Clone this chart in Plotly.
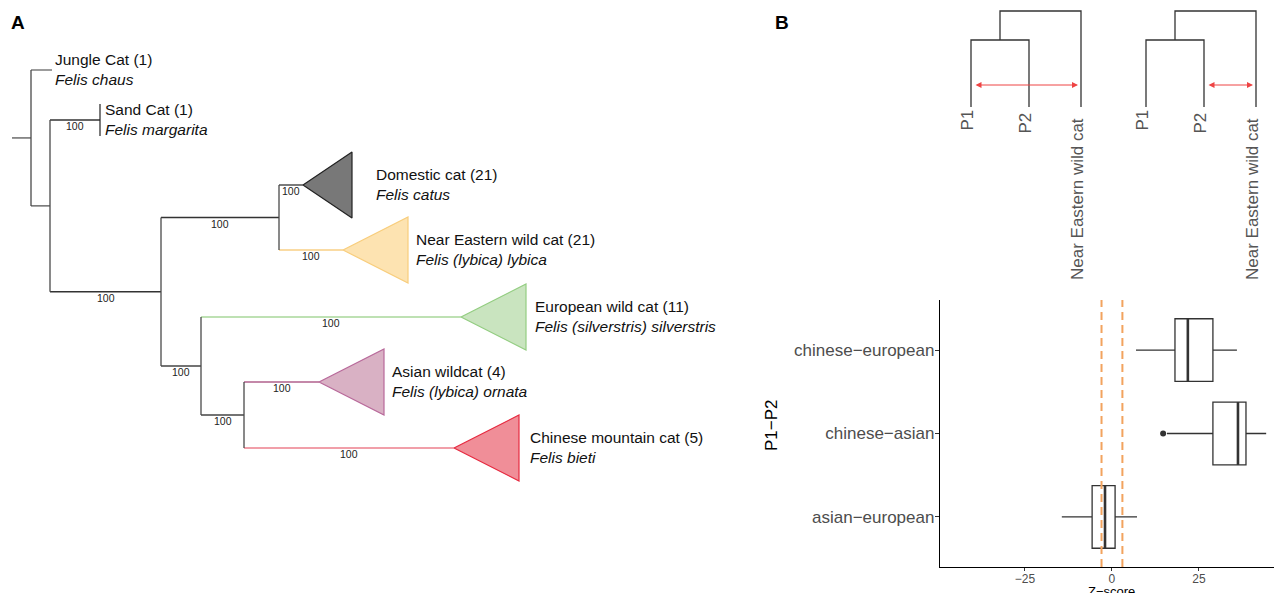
import plotly.graph_objects as go

W, H = 1274, 593
FONT = "Liberation Sans, Arial, Helvetica, sans-serif"

# ---------------- Panel A : phylogeny ----------------
node_ids = ["root", "n1", "n2", "n3", "n4", "n5", "n6",
            "jungle", "sand", "domestic", "near_eastern", "european", "asian", "chinese"]
node_parent = [None, "root", "n1", "n2", "n3", "n3", "n5",
               "n1", "n2", "n4", "n4", "n5", "n6", "n6"]
node_depth = [12, 31, 50, 161, 279, 201, 244, 52, 100, 303, 343, 461, 319, 454]
node_support = [None, None, None, 100, 100, 100, 100, None, 100, 100, 100, 100, 100, 100]
branch_color = ["#333333", "#555555", "#555555", "#333333", "#333333", "#444444", "#444444",
                "#666666", "#333333", "#333333", "#f9cf85", "#a8d79a", "#b0608c", "#ec7f8c"]

tip_ids = ["jungle", "sand", "domestic", "near_eastern", "european", "asian", "chinese"]
tip_y = [70, 120, 185, 250, 317, 382, 448]
tip_common = ["Jungle Cat (1)", "Sand Cat (1)", "Domestic cat (21)", "Near Eastern wild cat (21)",
              "European wild cat (11)", "Asian wildcat (4)", "Chinese mountain cat (5)"]
tip_species = ["Felis chaus", "Felis margarita", "Felis catus", "Felis (lybica) lybica",
               "Felis (silverstris) silverstris", "Felis (lybica) ornata", "Felis bieti"]
tip_label_gap = [3, 5, 24, 8, 9, 8, 11]
clade_len = [0, 0, 49, 65, 65, 65, 65]
clade_half = [0, 16, 33, 33, 33, 33, 33]
clade_fill = [None, None, "#787878", "#fde3b1", "#c9e4bf", "#d9b1c4", "#f08e98"]
clade_line = [None, "#222222", "#222222", "#f8cd7c", "#93cd81", "#b8699a", "#e62a40"]

# ---------------- Panel B : topologies ----------------
dendro_origin_x = [971, 1146]
leaf_offset = [0, 58, 110]
dendro_leaf_labels = ["P1", "P2", "Near Eastern wild cat"]
dendro_label_drop = [0, 3, 8]
dendro_root_y, dendro_inner_y, dendro_leaf_y = 11, 40, 107
arrow_pairs = [(0, 2), (1, 2)]
arrow_y = 85

# ---------------- Panel B : D-statistic boxplot ----------------
pairs = ["asian\u2212european", "chinese\u2212asian", "chinese\u2212european"]
q1 = [-5.7, 29.0, 18.1]
median = [-2.0, 36.2, 21.8]
q3 = [0.9, 38.5, 29.0]
lower = [-14.4, 15.8, 6.9]
upper = [7.2, 44.3, 35.9]
outlier_pair = [1]
outlier_val = [14.7]
thresholds = [-3, 3]
xticks = [-25, 0, 25]

fig = go.Figure()

# ---- tree geometry ----
depth = dict(zip(node_ids, node_depth))
children = {n: [] for n in node_ids}
for n, p in zip(node_ids, node_parent):
    if p is not None:
        children[p].append(n)
ypos = dict(zip(tip_ids, tip_y))


def get_y(n):
    if n in ypos:
        return ypos[n]
    cy = [get_y(c) for c in children[n]]
    ypos[n] = (min(cy) + max(cy)) / 2
    return ypos[n]


for n in node_ids:
    get_y(n)

segs = {}
for n, p, col in zip(node_ids, node_parent, branch_color):
    if p is None:
        continue
    segs.setdefault(col, ([], []))
    segs[col][0].extend([depth[p], depth[n], None])
    segs[col][1].extend([ypos[n], ypos[n], None])
vcol = "#4a4a4a"
segs.setdefault(vcol, ([], []))
for n in node_ids:
    if children[n]:
        cy = [ypos[c] for c in children[n]]
        segs[vcol][0].extend([depth[n], depth[n], None])
        segs[vcol][1].extend([min(cy), max(cy), None])
for col, (xs, ys) in segs.items():
    fig.add_trace(go.Scatter(x=xs, y=ys, mode="lines", line=dict(color=col, width=1.3),
                             hoverinfo="skip", showlegend=False, xaxis="x", yaxis="y"))

# clades
for i, t in enumerate(tip_ids):
    x0 = depth[t]
    y0 = ypos[t]
    if clade_len[i] > 0:
        fig.add_trace(go.Scatter(
            x=[x0, x0 + clade_len[i], x0 + clade_len[i], x0],
            y=[y0, y0 - clade_half[i], y0 + clade_half[i], y0],
            mode="lines", fill="toself", fillcolor=clade_fill[i],
            line=dict(color=clade_line[i], width=1.2),
            hoverinfo="skip", showlegend=False, xaxis="x", yaxis="y"))
    elif clade_half[i] > 0:
        fig.add_trace(go.Scatter(
            x=[x0, x0], y=[y0 - clade_half[i], y0 + clade_half[i]], mode="lines",
            line=dict(color=clade_line[i], width=1.2),
            hoverinfo="skip", showlegend=False, xaxis="x", yaxis="y"))

annotations = []
for i, t in enumerate(tip_ids):
    annotations.append(dict(
        x=depth[t] + clade_len[i] + tip_label_gap[i], y=ypos[t], xref="x", yref="y",
        xshift=-2, yshift=1,
        text=f"{tip_common[i]}<br><i>{tip_species[i]}</i>", showarrow=False,
        xanchor="left", yanchor="middle", align="left",
        font=dict(family=FONT, size=15.5, color="#111111")))

for n, p, s in zip(node_ids, node_parent, node_support):
    if s is None:
        continue
    annotations.append(dict(
        x=(depth[p] + depth[n]) / 2, y=ypos[n] + 6, xref="x", yref="y", text=str(s),
        showarrow=False, xanchor="center", yanchor="middle",
        font=dict(family=FONT, size=10.5, color="#222222")))

# ---- topologies ----
for k, ox in enumerate(dendro_origin_x):
    lx = [ox + o for o in leaf_offset]
    inner_x = (lx[0] + lx[1]) / 2
    xs = [lx[0], lx[0], lx[1], lx[1], None,
          inner_x, inner_x, lx[2], lx[2]]
    ys = [dendro_leaf_y, dendro_inner_y, dendro_inner_y, dendro_leaf_y, None,
          dendro_inner_y, dendro_root_y, dendro_root_y, dendro_leaf_y]
    fig.add_trace(go.Scatter(x=xs, y=ys, mode="lines", line=dict(color="#333333", width=1.3),
                             hoverinfo="skip", showlegend=False, xaxis="x", yaxis="y"))
    a, b = arrow_pairs[k]
    annotations.append(dict(
        x=lx[b] - 3, y=arrow_y, ax=lx[a] + 3, ay=arrow_y, xref="x", yref="y",
        axref="x", ayref="y", text="", showarrow=True, arrowside="end+start",
        arrowhead=2, arrowsize=1.2, arrowwidth=1, arrowcolor="#ee4444"))
    for j, lab in enumerate(dendro_leaf_labels):
        annotations.append(dict(
            x=lx[j], y=dendro_leaf_y + dendro_label_drop[j], xref="x", yref="y",
            xshift=-4, yshift=-1, text=lab,
            showarrow=False, textangle=-90, xanchor="center", yanchor="top",
            font=dict(family=FONT, size=17, color="#555555")))

# ---- boxplot ----
ypos_box = list(range(len(pairs)))
fig.add_trace(go.Box(
    y=ypos_box, q1=q1, median=median, q3=q3, lowerfence=lower, upperfence=upper,
    orientation="h", width=0.75, whiskerwidth=0, boxpoints=False,
    fillcolor="white", line=dict(color="#333333", width=1.3),
    hoverinfo="skip", showlegend=False, xaxis="x2", yaxis="y2"))
mx, my = [], []
for i, m in enumerate(median):
    mx.extend([m, m, None])
    my.extend([ypos_box[i] - 0.375, ypos_box[i] + 0.375, None])
fig.add_trace(go.Scatter(x=mx, y=my, mode="lines", line=dict(color="#333333", width=2.6),
                         hoverinfo="skip", showlegend=False, xaxis="x2", yaxis="y2"))
fig.add_trace(go.Scatter(x=outlier_val, y=[ypos_box[i] for i in outlier_pair], mode="markers",
                         marker=dict(color="#333333", size=6),
                         hoverinfo="skip", showlegend=False, xaxis="x2", yaxis="y2"))
for t in thresholds:
    fig.add_trace(go.Scatter(x=[t, t], y=[-0.6, 2.6], mode="lines",
                             line=dict(color="#f2a35e", width=2, dash="8px,5px"),
                             hoverinfo="skip", showlegend=False, xaxis="x2", yaxis="y2"))

# panel letters and axis titles
annotations += [
    dict(x=18, y=22, xref="x", yref="y", text="<b>A</b>", showarrow=False,
         font=dict(family=FONT, size=19, color="black")),
    dict(x=782, y=22, xref="x", yref="y", text="<b>B</b>", showarrow=False,
         font=dict(family=FONT, size=19, color="black")),
    dict(x=771, y=425, xref="x", yref="y", text="P1\u2212P2", showarrow=False, textangle=-90,
         font=dict(family=FONT, size=17, color="black")),
    dict(x=1111, y=591, xref="x", yref="y", text="Z\u2212score", showarrow=False,
         font=dict(family=FONT, size=13, color="black")),
]

fig.update_layout(
    width=W, height=H, margin=dict(l=0, r=0, t=0, b=0),
    paper_bgcolor="white", plot_bgcolor="rgba(0,0,0,0)",
    showlegend=False, font=dict(family=FONT),
    xaxis=dict(domain=[0, 1], range=[0, W], visible=False, fixedrange=True),
    yaxis=dict(domain=[0, 1], range=[H, 0], visible=False, fixedrange=True),
    xaxis2=dict(domain=[940 / W, 1], range=[-49.4, 46.55], anchor="y2",
                showline=True, linecolor="black", linewidth=1.3, showgrid=False, zeroline=False,
                ticks="outside", ticklen=3, tickcolor="#333333", tickvals=xticks,
                ticktext=["\u221225", "0", "25"], ticklabelstandoff=-3,
                tickfont=dict(family=FONT, size=12, color="#4d4d4d")),
    yaxis2=dict(domain=[(H - 567) / H, (H - 300) / H], range=[-0.6, 2.6], anchor="x2",
                showline=True, linecolor="black", linewidth=1.3, showgrid=False, zeroline=False,
                ticks="outside", ticklen=4, tickcolor="#333333", ticklabelstandoff=-3,
                tickvals=ypos_box, ticktext=pairs,
                tickfont=dict(family=FONT, size=17, color="#4d4d4d")),
    annotations=annotations,
)

fig.write_html("out.html", config={"displayModeBar": False},
               post_script="document.body.style.margin='0';")
